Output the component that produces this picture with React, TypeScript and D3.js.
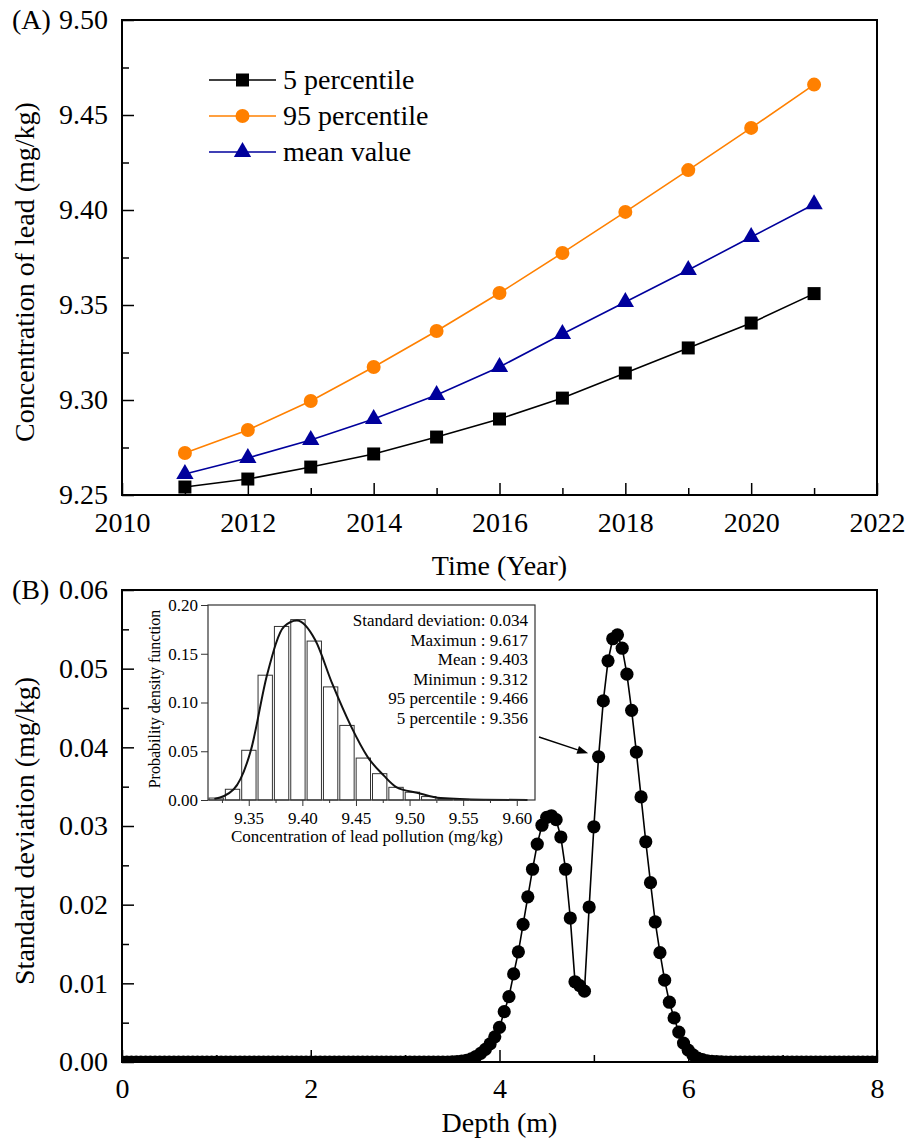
import React, { useEffect, useRef } from 'react';
import * as d3 from 'd3';

// ---- Panel A: lead concentration over time ----
const years = [2011, 2012, 2013, 2014, 2015, 2016, 2017, 2018, 2019, 2020, 2021];
const percentile5 = [9.2542, 9.2584, 9.2647, 9.2716, 9.2805, 9.29, 9.301, 9.3142, 9.3274, 9.3405, 9.356];
const percentile95 = [9.2721, 9.2842, 9.2995, 9.3174, 9.3363, 9.3563, 9.3774, 9.399, 9.421, 9.4432, 9.466];
const meanValue = [9.2611, 9.2695, 9.279, 9.29, 9.3026, 9.3174, 9.3347, 9.3516, 9.3684, 9.3858, 9.403];

const yearTicks = [2010, 2012, 2014, 2016, 2018, 2020, 2022];
const yearMinorTicks = [2011, 2013, 2015, 2017, 2019, 2021];
const concTicks = [9.25, 9.3, 9.35, 9.4, 9.45, 9.5];
const concMinorTicks = [9.275, 9.325, 9.375, 9.425, 9.475];

// ---- Panel B: standard deviation along depth (0.05 m spacing, 0..8 m) ----
const depthStep = 0.05;
const stdDev = [
  0, 0, 0, 0, 0, 0, 0, 0, 0, 0,
  0, 0, 0, 0, 0, 0, 0, 0, 0, 0,
  0, 0, 0, 0, 0, 0, 0, 0, 0, 0,
  0, 0, 0, 0, 0, 0, 0, 0, 0, 0,
  0, 0, 0, 0, 0, 0, 0, 0, 0, 0,
  0, 0, 0, 0, 0, 0, 0, 0, 0, 0,
  0, 0, 0, 0, 0, 0, 0, 0, 0, 0,
  0.00002, 0.00005, 0.0001, 0.0002, 0.0004, 0.0007, 0.0011, 0.0016, 0.0023, 0.0032,
  0.0044, 0.0064, 0.0083, 0.0112, 0.014, 0.0175, 0.021, 0.0245, 0.0277, 0.0301,
  0.0311, 0.0313, 0.0308, 0.0286, 0.0245, 0.0183, 0.0102, 0.0097, 0.009, 0.0197,
  0.0299, 0.0388, 0.0459, 0.051, 0.0538, 0.0543, 0.0526, 0.0493, 0.0447, 0.0394,
  0.0337, 0.028, 0.0228, 0.0178, 0.0139, 0.0104, 0.0076, 0.0056, 0.0038, 0.0024,
  0.0015, 0.0009, 0.0005, 0.0003, 0.00015, 0.00008, 0.00004, 0.00002, 0, 0,
  0, 0, 0, 0, 0, 0, 0, 0, 0, 0,
  0, 0, 0, 0, 0, 0, 0, 0, 0, 0,
  0, 0, 0, 0, 0, 0, 0, 0, 0, 0,
  0,
];
const depthTicks = [0, 2, 4, 6, 8];
const depthMinorTicks = [1, 3, 5, 7];
const sdTicks = [0, 0.01, 0.02, 0.03, 0.04, 0.05, 0.06];
const sdMinorTicks = [0.005, 0.015, 0.025, 0.035, 0.045, 0.055];

// ---- Inset: distribution of the 2021 concentration ----
const binStart = 9.312;
const binWidth = 0.01525;
const binDensity = [0.002, 0.011, 0.051, 0.128, 0.178, 0.185, 0.163, 0.116, 0.0765, 0.043,
  0.027, 0.013, 0.008, 0.0035, 0.0012, 0.0006, 0.0003, 0.0001, 0, 0];
const pdfX = [9.318, 9.336, 9.352, 9.367, 9.383, 9.395, 9.412, 9.428, 9.445, 9.461, 9.476, 9.488, 9.507, 9.529, 9.569, 9.61];
const pdfY = [0.001, 0.011, 0.051, 0.128, 0.178, 0.184, 0.164, 0.119, 0.0765, 0.044, 0.025, 0.013, 0.0075, 0.002, 0.0003, 0];
const pdfTicksX = [9.35, 9.4, 9.45, 9.5, 9.55, 9.6];
const pdfMinorX = [9.325, 9.375, 9.425, 9.475, 9.525, 9.575];
const pdfTicksY = [0, 0.05, 0.1, 0.15, 0.2];
const statLines = [
  'Standard deviation: 0.034',
  'Maximun : 9.617',
  'Mean : 9.403',
  'Minimun : 9.312',
  '95 percentile : 9.466',
  '5 percentile : 9.356',
];
const arrowDepth = 5.05;

const FONT = '"Liberation Serif", "Times New Roman", serif';

type Sel = d3.Selection<SVGGElement, unknown, null, undefined>;

function styleAxis(g: Sel, size: number, width = 1.5, color = '#000') {
  g.select('.domain').remove();
  g.attr('font-family', FONT).attr('font-size', size);
  g.selectAll('line').attr('stroke', color).attr('stroke-width', width);
  g.selectAll('text')
    .attr('fill', '#000')
    .attr('font-family', FONT)
    .attr('font-size', size)
    .style('font-family', FONT);
}

export default function App() {
  const ref = useRef<SVGSVGElement | null>(null);

  useEffect(() => {
    const svg = d3.select(ref.current as SVGSVGElement);
    svg.selectAll('*').remove();

    // ================= Panel A =================
    const A = { left: 122, right: 877, top: 20, bottom: 495 };
    const xA = d3.scaleLinear().domain([2010, 2022]).range([A.left, A.right]);
    const yA = d3.scaleLinear().domain([9.25, 9.5]).range([A.bottom, A.top]);
    const gA = svg.append('g');

    const axA1 = gA.append('g').attr('transform', `translate(0,${A.bottom})`)
      .call(d3.axisBottom(xA).tickValues(yearTicks).tickSize(-12).tickPadding(17).tickFormat(d3.format('d')) as any);
    styleAxis(axA1 as any, 28);
    const axA2 = gA.append('g').attr('transform', `translate(0,${A.bottom})`)
      .call(d3.axisBottom(xA).tickValues(yearMinorTicks).tickSize(-7).tickFormat(() => '') as any);
    styleAxis(axA2 as any, 28);
    const ayA1 = gA.append('g').attr('transform', `translate(${A.left},0)`)
      .call(d3.axisLeft(yA).tickValues(concTicks).tickSize(-12).tickPadding(14).tickFormat(d3.format('.2f')) as any);
    styleAxis(ayA1 as any, 28);
    const ayA2 = gA.append('g').attr('transform', `translate(${A.left},0)`)
      .call(d3.axisLeft(yA).tickValues(concMinorTicks).tickSize(-7).tickFormat(() => '') as any);
    styleAxis(ayA2 as any, 28);

    gA.append('rect')
      .attr('x', A.left).attr('y', A.top)
      .attr('width', A.right - A.left).attr('height', A.bottom - A.top)
      .attr('fill', 'none').attr('stroke', '#000').attr('stroke-width', 2);

    const seriesA = [
      { name: '5 percentile', values: percentile5, color: '#000000', symbol: d3.symbolSquare, size: 169 },
      { name: '95 percentile', values: percentile95, color: '#ff8000', symbol: d3.symbolCircle, size: 154 },
      { name: 'mean value', values: meanValue, color: '#00009c', symbol: d3.symbolTriangle, size: 130 },
    ];

    const lineA = d3.line<number>().x((_, i) => xA(years[i])).y((d) => yA(d));
    seriesA.forEach((s) => {
      gA.append('path').attr('d', lineA(s.values) as string)
        .attr('fill', 'none').attr('stroke', s.color).attr('stroke-width', 1.6);
      const sym = d3.symbol().type(s.symbol).size(s.size);
      gA.append('g').selectAll('path').data(s.values).join('path')
        .attr('d', sym() as string)
        .attr('transform', (d, i) => `translate(${xA(years[i])},${yA(d)})`)
        .attr('fill', s.color);
    });

    // legend
    const legend = gA.append('g');
    seriesA.forEach((s, i) => {
      const yy = 80 + i * 36;
      legend.append('line').attr('x1', 209).attr('x2', 276).attr('y1', yy).attr('y2', yy)
        .attr('stroke', s.color).attr('stroke-width', 1.6);
      legend.append('path').attr('d', d3.symbol().type(s.symbol).size(s.size)() as string)
        .attr('transform', `translate(242.5,${yy})`).attr('fill', s.color);
      legend.append('text').attr('x', 283).attr('y', yy + 9)
        .attr('font-family', FONT).attr('font-size', 28).text(s.name);
    });

    gA.append('text').attr('x', 12).attr('y', 29).attr('font-family', FONT).attr('font-size', 28).text('(A)');
    gA.append('text').attr('transform', `translate(34,272) rotate(-90)`).attr('text-anchor', 'middle')
      .attr('font-family', FONT).attr('font-size', 28).text('Concentration of lead (mg/kg)');
    gA.append('text').attr('x', (A.left + A.right) / 2).attr('y', 575).attr('text-anchor', 'middle')
      .attr('font-family', FONT).attr('font-size', 28).text('Time (Year)');

    // ================= Panel B =================
    const B = { left: 122, right: 877, top: 590, bottom: 1062 };
    const xB = d3.scaleLinear().domain([0, 8]).range([B.left, B.right]);
    const yB = d3.scaleLinear().domain([0, 0.06]).range([B.bottom, B.top]);
    const gB = svg.append('g');

    svg.append('defs').append('clipPath').attr('id', 'clipB')
      .append('rect').attr('x', B.left).attr('y', B.top)
      .attr('width', B.right - B.left).attr('height', B.bottom - B.top);

    const depths = stdDev.map((_, i) => i * depthStep);
    const dataB = gB.append('g').attr('clip-path', 'url(#clipB)');
    const lineB = d3.line<number>().x((_, i) => xB(depths[i])).y((d) => yB(d));
    dataB.append('path').attr('d', lineB(stdDev) as string)
      .attr('fill', 'none').attr('stroke', '#000').attr('stroke-width', 1.6);
    dataB.append('g').selectAll('circle').data(stdDev).join('circle')
      .attr('cx', (_, i) => xB(depths[i])).attr('cy', (d) => yB(d)).attr('r', 6.6)
      .attr('fill', '#000');

    const axB1 = gB.append('g').attr('transform', `translate(0,${B.bottom})`)
      .call(d3.axisBottom(xB).tickValues(depthTicks).tickSize(-12).tickPadding(16).tickFormat(d3.format('d')) as any);
    styleAxis(axB1 as any, 28);
    const axB2 = gB.append('g').attr('transform', `translate(0,${B.bottom})`)
      .call(d3.axisBottom(xB).tickValues(depthMinorTicks).tickSize(-7).tickFormat(() => '') as any);
    styleAxis(axB2 as any, 28);
    const ayB1 = gB.append('g').attr('transform', `translate(${B.left},0)`)
      .call(d3.axisLeft(yB).tickValues(sdTicks).tickSize(-12).tickPadding(14).tickFormat(d3.format('.2f')) as any);
    styleAxis(ayB1 as any, 28);
    const ayB2 = gB.append('g').attr('transform', `translate(${B.left},0)`)
      .call(d3.axisLeft(yB).tickValues(sdMinorTicks).tickSize(-7).tickFormat(() => '') as any);
    styleAxis(ayB2 as any, 28);

    gB.append('rect')
      .attr('x', B.left).attr('y', B.top)
      .attr('width', B.right - B.left).attr('height', B.bottom - B.top)
      .attr('fill', 'none').attr('stroke', '#000').attr('stroke-width', 2);

    gB.append('text').attr('x', 12).attr('y', 599).attr('font-family', FONT).attr('font-size', 28).text('(B)');
    gB.append('text').attr('transform', `translate(34,831) rotate(-90)`).attr('text-anchor', 'middle')
      .attr('font-family', FONT).attr('font-size', 28).text('Standard deviation (mg/kg)');
    gB.append('text').attr('x', (B.left + B.right) / 2).attr('y', 1132).attr('text-anchor', 'middle')
      .attr('font-family', FONT).attr('font-size', 28).text('Depth (m)');

    // ================= Inset =================
    const I = { left: 208, right: 535, top: 605, bottom: 800 };
    const xI = d3.scaleLinear().domain([9.312, 9.617]).range([I.left, I.right]);
    const yI = d3.scaleLinear().domain([0, 0.2]).range([I.bottom, I.top]);
    const gI = svg.append('g');

    gI.append('rect').attr('x', I.left).attr('y', I.top)
      .attr('width', I.right - I.left).attr('height', I.bottom - I.top)
      .attr('fill', '#fff');

    gI.append('g').selectAll('rect').data(binDensity).join('rect')
      .attr('x', (_, i) => xI(binStart + i * binWidth) + 1)
      .attr('width', (_, i) => xI(binStart + (i + 1) * binWidth) - xI(binStart + i * binWidth) - 2)
      .attr('y', (d) => yI(d))
      .attr('height', (d) => I.bottom - yI(d))
      .attr('fill', '#fff').attr('stroke', '#333').attr('stroke-width', 1);

    const pdfLine = d3.line<number>().x((_, i) => xI(pdfX[i])).y((d) => yI(d)).curve(d3.curveMonotoneX);
    gI.append('path').attr('d', pdfLine(pdfY) as string)
      .attr('fill', 'none').attr('stroke', '#111').attr('stroke-width', 2);

    const axI1 = gI.append('g').attr('transform', `translate(0,${I.bottom})`)
      .call(d3.axisBottom(xI).tickValues(pdfTicksX).tickSize(6).tickPadding(6).tickFormat(d3.format('.2f')) as any);
    styleAxis(axI1 as any, 17, 1, '#333');
    const axI2 = gI.append('g').attr('transform', `translate(0,${I.bottom})`)
      .call(d3.axisBottom(xI).tickValues(pdfMinorX).tickSize(3).tickFormat(() => '') as any);
    styleAxis(axI2 as any, 17, 1, '#333');
    const ayI = gI.append('g').attr('transform', `translate(${I.left},0)`)
      .call(d3.axisLeft(yI).tickValues(pdfTicksY).tickSize(7).tickPadding(3).tickFormat(d3.format('.2f')) as any);
    styleAxis(ayI as any, 17, 1, '#333');

    gI.append('rect').attr('x', I.left).attr('y', I.top)
      .attr('width', I.right - I.left).attr('height', I.bottom - I.top)
      .attr('fill', 'none').attr('stroke', '#333').attr('stroke-width', 1.2);

    statLines.forEach((t, i) => {
      gI.append('text').attr('x', 528).attr('y', 626 + i * 19.5).attr('text-anchor', 'end')
        .attr('font-family', FONT).attr('font-size', 17).text(t);
    });

    gI.append('text').attr('transform', `translate(160,699) rotate(-90)`).attr('text-anchor', 'middle')
      .attr('font-family', FONT).attr('font-size', 16).text('Probability density function');
    gI.append('text').attr('x', 367).attr('y', 842).attr('text-anchor', 'middle')
      .attr('font-family', FONT).attr('font-size', 17).text('Concentration of lead pollution (mg/kg)');

    // arrow from the inset to the highlighted depth point
    const ai = Math.round(arrowDepth / depthStep);
    const px = xB(depths[ai]);
    const py = yB(stdDev[ai]);
    const sx = 539, sy = 737;
    const ang = Math.atan2(py - sy, px - sx);
    const tx = px - Math.cos(ang) * 11, ty = py - Math.sin(ang) * 11;
    const hl = 11, hw = 4;
    const bx = tx - Math.cos(ang) * hl, by = ty - Math.sin(ang) * hl;
    svg.append('line').attr('x1', sx).attr('y1', sy).attr('x2', bx).attr('y2', by)
      .attr('stroke', '#000').attr('stroke-width', 1.4);
    svg.append('path')
      .attr('d', `M${tx},${ty}L${bx - Math.sin(ang) * hw},${by + Math.cos(ang) * hw}L${bx + Math.sin(ang) * hw},${by - Math.cos(ang) * hw}Z`)
      .attr('fill', '#000');
  }, []);

  return (
    <svg
      ref={ref}
      width={909}
      height={1141}
      style={{ position: 'absolute', left: 0, top: 0, background: '#fff' }}
    />
  );
}
